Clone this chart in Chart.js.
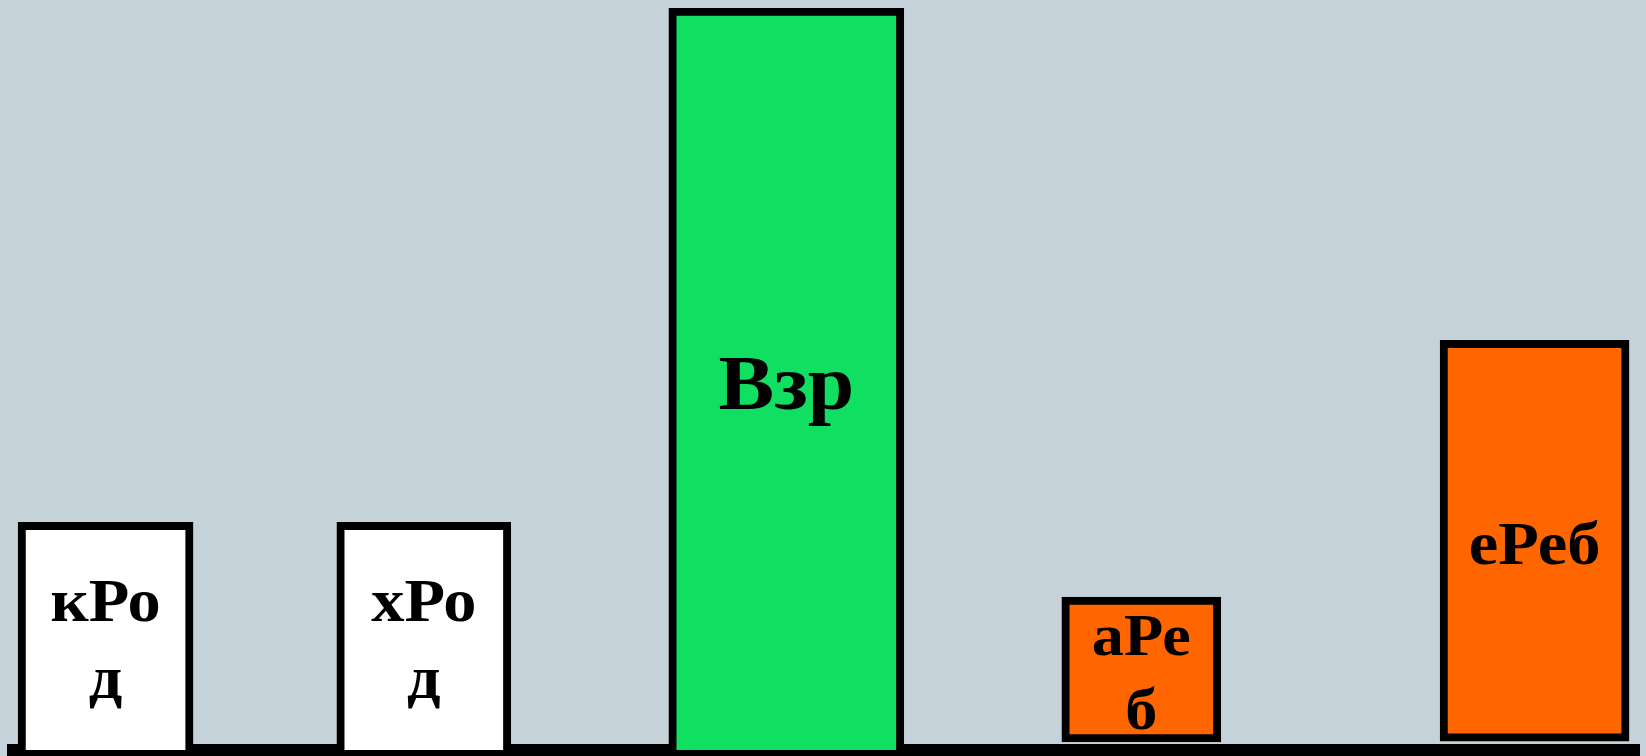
<!DOCTYPE html>
<html>
<head>
<meta charset="utf-8">
<script src="https://cdn.jsdelivr.net/npm/chart.js@4"></script>
<style>
  html, body { margin: 0; padding: 0; background: #c6d2d9; }
  #wrap { width: 1646px; height: 756px; }
</style>
</head>
<body>
<div id="wrap"><canvas id="myChart"></canvas></div>
<script>
// bar labels (a space marks where the label wraps)
var categories = ['кРо д', 'хРо д', 'Взр', 'аРе б', 'еРеб'];
// bottom and top of each bar
var barStart = [0, 0, 0, 1.1, 1.2];
var barEnd = [30.7, 30.7, 100, 20.6, 55.2];
// where each bar sits along the x axis (0-100)
var barPosition = [5.69, 25.25, 47.53, 69.35, 93.52];

// styling
var barWidths = [175, 174, 235, 159, 189];
var barColors = ['#ffffff', '#ffffff', '#10df62', '#ff6600', '#ff6600'];
var labelSizes = [62, 62, 78, 60, 62];

var datasets = categories.map(function (name, i) {
    return {
        label: name,
        data: [{ x: barPosition[i], y: barStart[i] ? [barStart[i], barEnd[i]] : barEnd[i] }],
        backgroundColor: barColors[i],
        borderColor: '#000000',
        borderWidth: 8,
        borderSkipped: barStart[i] ? false : 'start',
        barThickness: barWidths[i],
        grouped: false
    };
});

// writes each category name inside its bar
var barLabels = {
    id: 'barLabels',
    afterDatasetsDraw: function (chart) {
        var ctx = chart.ctx;
        chart.data.datasets.forEach(function (ds, i) {
            var bar = chart.getDatasetMeta(i).data[0];
            var size = labelSizes[i];
            var lines = categories[i].split(' ');
            var lh = size * 1.24;
            var cy = (bar.y + bar.base) / 2;
            ctx.save();
            ctx.fillStyle = '#000000';
            ctx.textAlign = 'center';
            ctx.textBaseline = 'alphabetic';
            ctx.font = 'bold ' + size + 'px "Liberation Serif", "Times New Roman", serif';
            ctx.translate(bar.x, 0);
            ctx.scale(1.07, 1);  // the original face is a bit wider
            lines.forEach(function (t, k) {
                ctx.fillText(t, 0, cy + (k - (lines.length - 1) / 2) * lh + size * 0.38);
            });
            ctx.restore();
        });
    }
};

var ctx = document.getElementById('myChart').getContext('2d');

var myChart = new Chart(ctx, {
    type: 'bar',
    data: { datasets: datasets },
    options: {
        responsive: true,
        maintainAspectRatio: false,
        animation: false,
        devicePixelRatio: 1,
        layout: { padding: { left: 13, right: 6, top: 8, bottom: 6 } },
        plugins: {
            legend: { display: false },
            tooltip: { enabled: false }
        },
        scales: {
            x: {
                type: 'linear',
                min: 0,
                max: 100,
                offset: false,
                grid: { display: false, drawTicks: false, lineWidth: 0 },
                ticks: { display: false },
                border: { display: true, color: '#000000', width: 12 }
            },
            y: {
                display: false,
                min: 0,
                max: 100
            }
        }
    },
    plugins: [barLabels]
});
</script>
</body>
</html>
